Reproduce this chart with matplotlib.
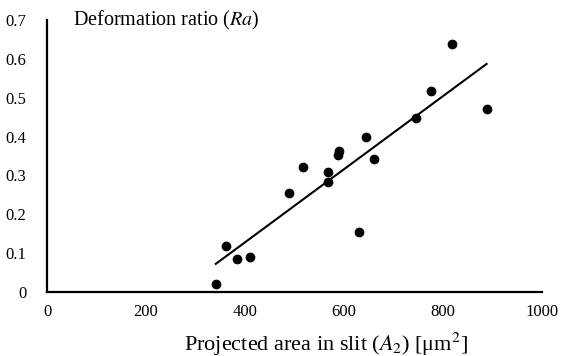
import numpy as np
import matplotlib
matplotlib.use('Agg')
import matplotlib.pyplot as plt
from matplotlib.ticker import FuncFormatter

# projected area in slit A2 [um^2] vs deformation ratio Ra
area = [341, 362, 384, 411, 489, 518, 568, 568, 588, 590, 630, 645, 660, 746, 776, 818, 888]
ratio = [0.021, 0.118, 0.085, 0.091, 0.256, 0.321, 0.308, 0.284, 0.352, 0.364,
         0.154, 0.399, 0.342, 0.448, 0.517, 0.637, 0.470]

x_ticks = [0, 200, 400, 600, 800, 1000]
y_ticks = [0, 0.1, 0.2, 0.3, 0.4, 0.5, 0.6, 0.7]

plt.rcParams['font.family'] = ['Liberation Serif', 'DejaVu Serif']
plt.rcParams['mathtext.fontset'] = 'stix'

fig = plt.figure(figsize=(5.63, 3.56), dpi=100)
ax = fig.add_axes([0.0835, 0.1798, 0.8792, 0.764])

ax.scatter(area, ratio, s=36, color='black', zorder=3)

# linear trend line
k, b = np.polyfit(area, ratio, 1)
xs = np.array([min(area), max(area)])
ax.plot(xs, k * xs + b, color='black', lw=1.5)

ax.set_xlim(0, 1000)
ax.set_ylim(0, 0.7)
ax.set_xticks(x_ticks)
ax.set_yticks(y_ticks)
ax.yaxis.set_major_formatter(FuncFormatter(lambda v, p: '0' if v == 0 else f'{v:.1f}'))
ax.tick_params(length=0, labelsize=12, colors='black')
ax.tick_params(axis='y', pad=15)
ax.tick_params(axis='x', pad=9)

for s in ['top', 'right']:
    ax.spines[s].set_visible(False)
for s in ['left', 'bottom']:
    ax.spines[s].set_linewidth(1.6)
    ax.spines[s].set_color('black')

fig.text(0.579, 0.016, 'Projected area in slit ($A_2$) [μm$^2$]', fontsize=16,
         ha='center', va='baseline')
ax.text(0.053, 1.0, 'Deformation ratio ($Ra$)', transform=ax.transAxes,
        fontsize=14.5, va='center', ha='left')

fig.savefig('out.png', dpi=100)
